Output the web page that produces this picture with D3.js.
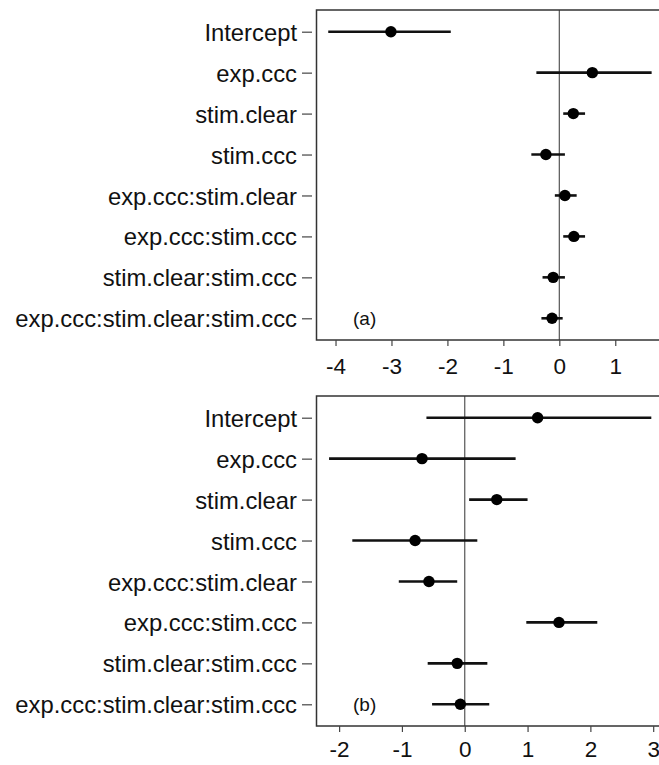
<!DOCTYPE html>
<html>
<head>
<meta charset="utf-8">
<script src="https://cdn.jsdelivr.net/npm/d3@7"></script>
<style>
  html, body { margin: 0; padding: 0; background: #ffffff; }
  svg { display: block; }
  text { font-family: "Liberation Sans", Arial, sans-serif; fill: #111; }
</style>
</head>
<body>
<svg id="chart" width="659" height="765"></svg>
<script>
// ---- data ----
const terms = [
  "Intercept",
  "exp.ccc",
  "stim.clear",
  "stim.ccc",
  "exp.ccc:stim.clear",
  "exp.ccc:stim.ccc",
  "stim.clear:stim.ccc",
  "exp.ccc:stim.clear:stim.ccc"
];

// panel (a)
const estA   = [-3.01, 0.59, 0.25, -0.24, 0.10, 0.26, -0.11, -0.13];
const lowerA = [-4.13, -0.41, 0.07, -0.50, -0.08, 0.07, -0.30, -0.32];
const upperA = [-1.94, 1.65, 0.46, 0.10, 0.31, 0.46, 0.10, 0.06];
const ticksA = [-4, -3, -2, -1, 0, 1];
const domainA = [-4.34, 1.88];

// panel (b)
const estB   = [1.16, -0.68, 0.51, -0.79, -0.57, 1.50, -0.12, -0.07];
const lowerB = [-0.61, -2.16, 0.07, -1.79, -1.05, 0.98, -0.59, -0.52];
const upperB = [2.97, 0.81, 1.00, 0.20, -0.12, 2.11, 0.36, 0.39];
const ticksB = [-2, -1, 0, 1, 2, 3];
const domainB = [-2.36, 3.18];

const panelLabels = ["(a)", "(b)"];

// ---- drawing ----
const svg = d3.select("#chart");
const left = 316.5, right = 664.5;

function drawPanel(top, bottom, est, lo, hi, ticks, domain, label, labelPad) {
  const g = svg.append("g");
  const x = d3.scaleLinear().domain(domain).range([left, right]);
  const y = d3.scalePoint().domain(terms).range([top, bottom]).padding(0.53);

  // zero reference line
  g.append("line")
    .attr("x1", x(0)).attr("x2", x(0))
    .attr("y1", top).attr("y2", bottom)
    .attr("stroke", "#555").attr("stroke-width", 1.2);

  // box
  g.append("rect")
    .attr("x", left).attr("y", top)
    .attr("width", right - left).attr("height", bottom - top)
    .attr("fill", "none").attr("stroke", "#333").attr("stroke-width", 1.5);

  // x axis
  const xAxis = g.append("g")
    .attr("transform", `translate(0,${bottom})`)
    .call(d3.axisBottom(x).tickValues(ticks).tickFormat(d => String(d).replace("\u2212", "-"))
      .tickSize(6).tickSizeOuter(0).tickPadding(labelPad));
  xAxis.select(".domain").remove();
  xAxis.selectAll(".tick line").attr("stroke", "#444").attr("stroke-width", 1.2);
  xAxis.selectAll(".tick text")
    .attr("font-size", "22.5px").attr("font-family", "Liberation Sans, Arial, sans-serif")
    .attr("fill", "#111");

  // y axis
  const yAxis = g.append("g")
    .attr("transform", `translate(${312},0)`)
    .call(d3.axisLeft(y).tickSize(10).tickPadding(5).tickSizeOuter(0));
  yAxis.select(".domain").remove();
  yAxis.selectAll(".tick line").attr("stroke", "#444").attr("stroke-width", 1.2);
  yAxis.selectAll(".tick text")
    .attr("font-size", "23.8px").attr("font-family", "Liberation Sans, Arial, sans-serif")
    .attr("fill", "#111").attr("dy", "0.36em");

  // intervals
  g.selectAll("line.ci").data(terms).join("line")
    .attr("class", "ci")
    .attr("x1", (d, i) => x(lo[i])).attr("x2", (d, i) => x(hi[i]))
    .attr("y1", d => y(d)).attr("y2", d => y(d))
    .attr("stroke", "#111").attr("stroke-width", 2.6);

  // estimates
  g.selectAll("circle.pt").data(terms).join("circle")
    .attr("class", "pt")
    .attr("cx", (d, i) => x(est[i])).attr("cy", d => y(d))
    .attr("r", 5.7).attr("fill", "#000");

  // panel label
  g.append("text")
    .attr("x", 353).attr("y", y(terms[terms.length - 1]))
    .attr("dy", "0.36em")
    .attr("font-size", "19px")
    .text(label);
}

drawPanel(10, 340, estA, lowerA, upperA, ticksA, domainA, panelLabels[0], 12);
drawPanel(396, 726, estB, lowerB, upperB, ticksB, domainB, panelLabels[1], 9);
</script>
</body>
</html>
